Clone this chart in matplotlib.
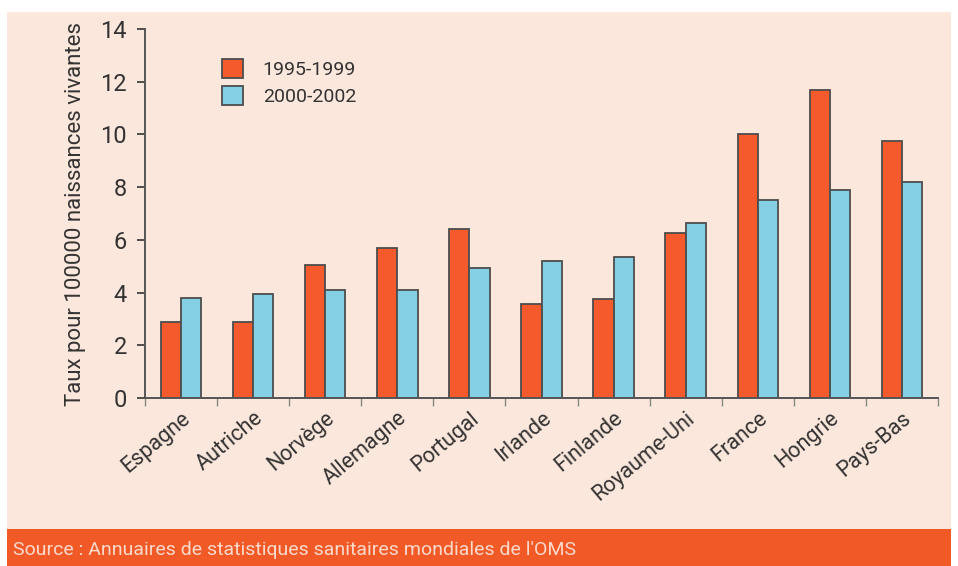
import matplotlib
matplotlib.use('Agg')
import matplotlib.pyplot as plt
import numpy as np
from matplotlib.patches import Rectangle

plt.rcParams['font.family'] = ['Liberation Sans Narrow', 'Roboto', 'DejaVu Sans']

pays = ['Espagne', 'Autriche', 'Norvège', 'Allemagne', 'Portugal', 'Irlande',
        'Finlande', 'Royaume-Uni', 'France', 'Hongrie', 'Pays-Bas']
taux_1995_1999 = [2.9, 2.9, 5.05, 5.7, 6.4, 3.55, 3.75, 6.25, 10.0, 11.7, 9.75]
taux_2000_2002 = [3.8, 3.95, 4.1, 4.1, 4.95, 5.2, 5.35, 6.65, 7.5, 7.9, 8.2]
yticks = [0, 2, 4, 6, 8, 10, 12, 14]
source = "Source : Annuaires de statistiques sanitaires mondiales de l'OMS"

FOND = '#fbe7dc'
ROUGE = '#f45a2c'
BLEU = '#86d0e6'
BORD = '#4d4d4d'
TEXTE = '#333333'

fig = plt.figure(figsize=(9.58, 5.66), dpi=100)
fig.patch.set_facecolor('white')
# fond peche et bandeau source
fig.patches.append(Rectangle((7 / 958, 37 / 566), 944 / 958, 517 / 566,
                             transform=fig.transFigure, facecolor=FOND,
                             edgecolor='none', zorder=-10))
fig.patches.append(Rectangle((7 / 958, 0), 944 / 958, 37 / 566,
                             transform=fig.transFigure, facecolor='#f15a27',
                             edgecolor='none', zorder=-10))
fig.text(13 / 958, 16 / 566, source, color='#fbd9cb', fontsize=14,
         va='center', ha='left')

ax = fig.add_axes([145 / 958, 1 - 398 / 566, 793 / 958, 369 / 566])
ax.set_facecolor('none')

x = np.arange(len(pays))
w = 0.28
ax.bar(x - w / 2, taux_1995_1999, w, color=ROUGE, edgecolor=BORD,
       linewidth=1.3, label='1995-1999')
ax.bar(x + w / 2, taux_2000_2002, w, color=BLEU, edgecolor=BORD,
       linewidth=1.3, label='2000-2002')

ax.set_xlim(-0.5, len(pays) - 0.5)
ax.set_ylim(0, 14)
ax.set_yticks(yticks)
ax.tick_params(axis='y', labelsize=17, colors=TEXTE, length=6, width=1.2,
               direction='out', pad=7)
ax.set_xticks(x)
ax.set_xticklabels(pays, rotation=40, ha='right', rotation_mode='anchor',
                   fontsize=15.5, color=TEXTE)
ax.tick_params(axis='x', which='major', length=0, pad=7)
ax.set_xticks(np.arange(len(pays) + 1) - 0.5, minor=True)
ax.tick_params(axis='x', which='minor', length=6, width=1, color='#888888',
               direction='out')

for s in ('top', 'right'):
    ax.spines[s].set_visible(False)
for s in ('left', 'bottom'):
    ax.spines[s].set_color('#555555')
    ax.spines[s].set_linewidth(1.4)

ax.set_ylabel('Taux pour 100000 naissances vivantes', fontsize=16,
              color=TEXTE, labelpad=10)

ax.legend(loc='upper left', bbox_to_anchor=(0.075, 0.965), frameon=False,
          fontsize=14, handlelength=1.1, handleheight=1.1, handletextpad=1.0,
          labelspacing=0.35, labelcolor=TEXTE)

fig.savefig('out.png', dpi=100, facecolor=fig.get_facecolor())
